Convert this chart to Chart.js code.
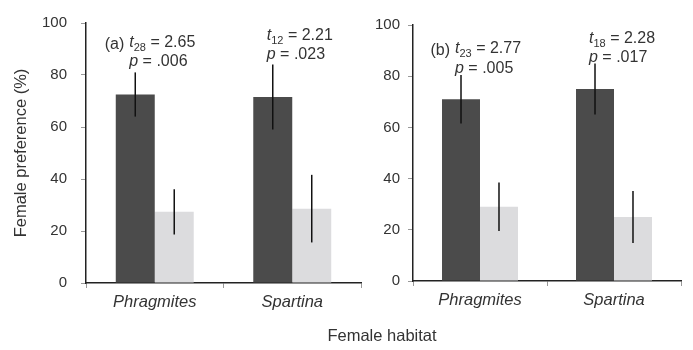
<!DOCTYPE html>
<html>
<head>
<meta charset="utf-8">
<script src="https://cdn.jsdelivr.net/npm/chart.js@4"></script>
<style>
  body { margin: 0; background: #fff; }
  #wrap { position: relative; width: 693px; height: 350px; font-family: "Liberation Sans", Arial, sans-serif; }
  #wrap canvas { position: absolute; top: 0; }
  #xtitle { position: absolute; top: 325px; left: 282px; width: 200px; text-align: center;
            font-size: 16.5px; line-height: 20px; color: #333; }
</style>
</head>
<body>
<div id="wrap">
  <canvas id="chartA" width="372" height="350" style="left:0"></canvas>
  <canvas id="chartB" width="321" height="350" style="left:372px"></canvas>
  <div id="xtitle">Female habitat</div>
</div>
<script>
const habitats = ['Phragmites', 'Spartina'];

// panel (a)
const aDark = [72.5, 71.5];
const aDarkErr = [8.5, 12.5];
const aLight = [27.4, 28.6];
const aLightErr = [8.7, 13];
const aDf = ['28', '12'];
const aT = ['2.65', '2.21'];
const aP = ['.006', '.023'];

// panel (b)
const bDark = [71, 75];
const bDarkErr = [9.5, 10];
const bLight = [29, 25];
const bLightErr = [9.5, 10.2];
const bDf = ['23', '18'];
const bT = ['2.77', '2.28'];
const bP = ['.005', '.017'];

const yTicks = [0, 20, 40, 60, 80, 100];

const FONT = '"Liberation Sans", Arial, sans-serif';
const TEXT = '#333';

// error bars, drawn on top of every bar
const errorBars = {
  id: 'errorBars',
  afterDatasetsDraw(chart) {
    const ctx = chart.ctx;
    const y = chart.scales.y;
    ctx.save();
    ctx.strokeStyle = '#111';
    ctx.lineWidth = 1.5;
    chart.data.datasets.forEach((ds, i) => {
      chart.getDatasetMeta(i).data.forEach((bar, j) => {
        const v = ds.data[j], e = ds.errors[j];
        ctx.beginPath();
        ctx.moveTo(bar.x, y.getPixelForValue(v + e));
        ctx.lineTo(bar.x, y.getPixelForValue(v - e));
        ctx.stroke();
      });
    });
    ctx.restore();
  }
};

// t / p statistics above each habitat
const statText = {
  id: 'statText',
  afterDatasetsDraw(chart, args, opts) {
    const ctx = chart.ctx;
    const bars = chart.getDatasetMeta(0).data;
    ctx.save();
    ctx.fillStyle = TEXT;
    ctx.textBaseline = 'alphabetic';
    bars.forEach((bar, j) => {
      let x = bar.x - 6;
      const yT = opts.baseY[j];
      const yP = yT + 19.5;
      if (j === 0) {
        ctx.font = '16px ' + FONT;
        ctx.textAlign = 'right';
        ctx.fillText(opts.label, x - 5, yT + 2);
      }
      ctx.textAlign = 'left';
      ctx.font = 'italic 16px ' + FONT;
      ctx.fillText('t', x, yT);
      let cx = x + ctx.measureText('t').width;
      ctx.font = '11px ' + FONT;
      ctx.fillText(opts.df[j], cx, yT + 4);
      cx += ctx.measureText(opts.df[j]).width;
      ctx.font = '16px ' + FONT;
      ctx.fillText(' = ' + opts.t[j], cx, yT);

      ctx.font = 'italic 16px ' + FONT;
      ctx.fillText('p', x, yP);
      cx = x + ctx.measureText('p').width;
      ctx.font = '16px ' + FONT;
      ctx.fillText(' = ' + opts.p[j], cx, yP);
    });
    ctx.restore();
  }
};

function makeChart(id, dark, darkErr, light, lightErr, stat, layout) {
  const yScale = {
    min: 0,
    max: 100,
    afterBuildTicks: s => { s.ticks = yTicks.map(v => ({ value: v })); },
    afterFit: s => { s.width = layout.yWidth; },
    ticks: { color: TEXT, font: { family: FONT, size: 15 }, padding: layout.tickPad },
    grid: { display: true, drawOnChartArea: false, drawTicks: true, tickLength: 5, color: '#999' },
    border: { display: true, color: '#222', width: 1.5 },
    title: {
      display: layout.yTitle,
      text: 'Female preference (%)',
      color: TEXT,
      font: { family: FONT, size: 16.5 },
      padding: { top: 12, bottom: 0 }
    }
  };
  return new Chart(document.getElementById(id), {
    type: 'bar',
    data: {
      labels: habitats,
      datasets: [
        { data: dark, errors: darkErr, backgroundColor: '#4b4b4b' },
        { data: light, errors: lightErr, backgroundColor: '#dcdcde' }
      ]
    },
    options: {
      responsive: false,
      animation: false,
      events: [],
      categoryPercentage: 0.567,
      barPercentage: 1,
      layout: { padding: { top: layout.top, right: layout.right, left: 0, bottom: 0 } },
      plugins: {
        legend: { display: false },
        tooltip: { enabled: false },
        statText: stat
      },
      scales: {
        x: {
          offset: true,
          afterFit: s => { s.height = layout.xHeight; },
          ticks: { color: TEXT, font: { family: FONT, size: 16.5, style: 'italic' }, padding: 5 },
          grid: { display: true, offset: true, drawOnChartArea: false, drawTicks: true, tickLength: 5, color: '#999' },
          border: { display: true, color: '#222', width: 1.5 }
        },
        y: yScale
      }
    },
    plugins: [errorBars, statText]
  });
}

makeChart('chartA', aDark, aDarkErr, aLight, aLightErr,
  { label: '(a)', df: aDf, t: aT, p: aP, baseY: [46.5, 39.5] },
  { yWidth: 86, tickPad: 14, top: 20, right: 11, xHeight: 67, yTitle: true });

makeChart('chartB', bDark, bDarkErr, bLight, bLightErr,
  { label: '(b)', df: bDf, t: bT, p: bP, baseY: [53, 42.7] },
  { yWidth: 41, tickPad: 8, top: 25, right: 12, xHeight: 69, yTitle: false });
</script>
</body>
</html>
